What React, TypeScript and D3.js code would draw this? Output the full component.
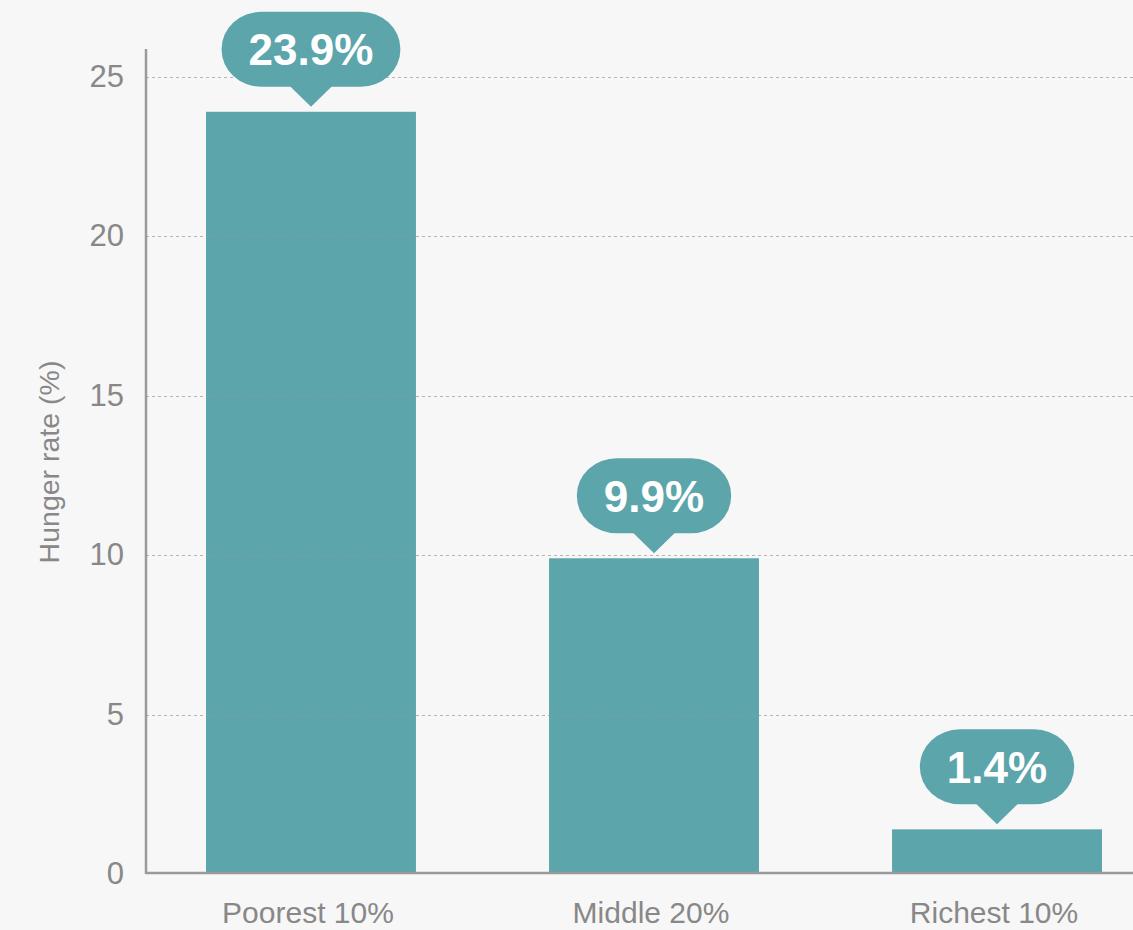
import React from "react";
import * as d3 from "d3";

const categories = ["Poorest 10%", "Middle 20%", "Richest 10%"];
const values = [23.9, 9.9, 1.4];
const yTicks = [0, 5, 10, 15, 20, 25];
const yTitle = "Hunger rate (%)";

const W = 1133;
const H = 930;
const FONT = "'Liberation Sans', Arial, Helvetica, sans-serif";

function measure(text: string, font: string): number {
  const c = document.createElement("canvas");
  const ctx = c.getContext("2d");
  if (!ctx) return text.length * 25;
  ctx.font = font;
  return ctx.measureText(text).width;
}

export default function App() {
  const axisX = 146;
  const baseY = 874;
  const x = d3
    .scaleBand<string>()
    .domain(categories)
    .range([axisX, 1162])
    .paddingInner(0.388)
    .paddingOuter(0.175);
  const y = d3.scaleLinear().domain([0, 25.9]).range([baseY, 48]);
  const fmt = d3.format(".1f");

  return (
    <svg
      width={W}
      height={H}
      style={{ position: "absolute", left: 0, top: 0, display: "block" }}
      fontFamily={FONT}
    >
      <rect x={0} y={0} width={W} height={H} fill="#f7f7f7" />
      {categories.map((c, i) => (
        <rect
          key={c}
          x={x(c)}
          y={y(values[i])}
          width={x.bandwidth()}
          height={baseY - y(values[i])}
          fill="#5ca5ab"
        />
      ))}
      {yTicks
        .filter((t) => t > 0)
        .map((t) => (
          <line
            key={t}
            x1={axisX}
            x2={W}
            y1={Math.round(y(t)) + 0.5}
            y2={Math.round(y(t)) + 0.5}
            stroke="#999"
            strokeOpacity={0.7}
            strokeWidth={1}
            strokeDasharray="3,3"
          />
        ))}
      <line x1={axisX} x2={axisX} y1={49} y2={baseY} stroke="#9a9a9a" strokeWidth={2.5} />
      <line x1={axisX} x2={W} y1={baseY - 1} y2={baseY - 1} stroke="#9a9a9a" strokeWidth={2.5} />
      {yTicks.map((t) => (
        <text
          key={t}
          x={124}
          y={y(t) - 1}
          dy="0.36em"
          textAnchor="end"
          fontSize={31}
          fill="#888"
        >
          {t}
        </text>
      ))}
      <text
        transform={`translate(59, 462) rotate(-90)`}
        textAnchor="middle"
        fontSize={28.5}
        fill="#888"
      >
        {yTitle}
      </text>
      {categories.map((c) => (
        <text
          key={c}
          x={(x(c) as number) + x.bandwidth() / 2 - 3}
          y={923}
          textAnchor="middle"
          fontSize={30}
          fill="#888"
        >
          {c}
        </text>
      ))}
      {categories.map((c, i) => {
        const label = fmt(values[i]) + "%";
        const tw = measure(label, `bold 44px ${FONT}`);
        const bw = tw + 54;
        const bh = 75;
        const cx = (x(c) as number) + x.bandwidth() / 2;
        const tip = y(values[i]) - 5;
        const bBottom = tip - 20;
        const bTop = bBottom - bh;
        return (
          <g key={c}>
            <rect
              x={cx - bw / 2}
              y={bTop}
              width={bw}
              height={bh}
              rx={40}
              ry={37}
              fill="#5ca5ab"
            />
            <path
              d={`M${cx - 21.5},${bBottom - 1}L${cx + 21.5},${bBottom - 1}L${cx},${tip}Z`}
              fill="#5ca5ab"
            />
            <text
              x={cx}
              y={bTop + bh / 2 + 16}
              textAnchor="middle"
              fontSize={44}
              fontWeight="bold"
              fill="#fff"
            >
              {label}
            </text>
          </g>
        );
      })}
    </svg>
  );
}
